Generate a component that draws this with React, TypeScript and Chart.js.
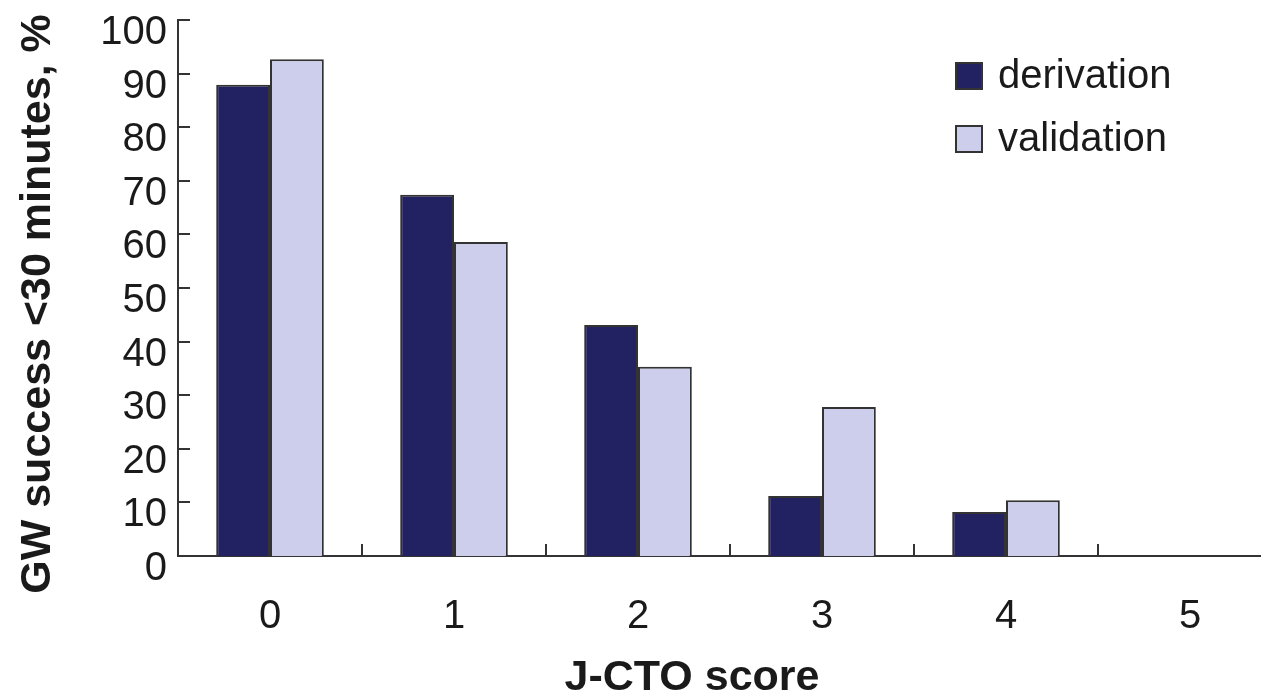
import React, { useEffect, useRef } from 'react';
import { Chart, registerables } from 'chart.js';

Chart.register(...registerables);

const categories = ['0', '1', '2', '3', '4', '5'];
const derivation = [87.9, 67.4, 43.1, 11.2, 8.2, 0];
const validation = [92.7, 58.6, 35.3, 27.8, 10.4, 0];
const seriesNames = ['derivation', 'validation'];
const seriesColors = ['#222262', '#CDCEEC'];
const yMin = 0;
const yMax = 100;
const yStep = 10;
const xTitle = 'J-CTO score';
const yTitle = 'GW success <30 minutes, %';

const FONT = "'Liberation Sans', Arial, sans-serif";
const AXIS_COLOR = '#333333';
const TEXT_COLOR = '#1a1a1a';

const decorPlugin = {
  id: 'decor',
  afterDraw(chart: any) {
    const ctx = chart.ctx as CanvasRenderingContext2D;
    const { left, top, bottom } = chart.chartArea;
    const ys = chart.scales.y;
    const xs = chart.scales.x;
    ctx.save();
    ctx.strokeStyle = AXIS_COLOR;
    ctx.lineWidth = 2;
    // y tick marks (inside)
    ys.ticks.forEach((t: any) => {
      const py = Math.round(ys.getPixelForValue(t.value));
      ctx.beginPath();
      ctx.moveTo(left, py);
      ctx.lineTo(left + 12, py);
      ctx.stroke();
    });
    // x tick marks at category boundaries (inside)
    for (let i = 1; i < categories.length; i++) {
      const px = Math.round((xs.getPixelForValue(i - 1) + xs.getPixelForValue(i)) / 2);
      ctx.beginPath();
      ctx.moveTo(px, bottom);
      ctx.lineTo(px, bottom - 12);
      ctx.stroke();
    }
    // legend
    ctx.font = `40px ${FONT}`;
    ctx.textBaseline = 'middle';
    ctx.textAlign = 'left';
    chart.data.datasets.forEach((ds: any, i: number) => {
      const bx = left + 777;
      const by = top + 42 + i * 63;
      ctx.fillStyle = ds.backgroundColor;
      ctx.fillRect(bx, by, 28, 28);
      ctx.strokeStyle = AXIS_COLOR;
      ctx.lineWidth = 2;
      ctx.strokeRect(bx + 1, by + 1, 26, 26);
      ctx.fillStyle = TEXT_COLOR;
      ctx.fillText(ds.label, bx + 43, by + 15);
    });
    // axis titles
    ctx.font = `bold 43px ${FONT}`;
    ctx.fillStyle = TEXT_COLOR;
    ctx.textAlign = 'center';
    ctx.textBaseline = 'alphabetic';
    ctx.fillText(xTitle, 692, 690);
    ctx.save();
    ctx.translate(50, 304);
    ctx.rotate(-Math.PI / 2);
    ctx.fillText(yTitle, 0, 0);
    ctx.restore();
    ctx.restore();
  },
};

export default function App() {
  const canvasRef = useRef<HTMLCanvasElement | null>(null);

  useEffect(() => {
    if (!canvasRef.current) return;
    const chart = new Chart(canvasRef.current, {
      type: 'bar',
      data: {
        labels: categories,
        datasets: [
          {
            label: seriesNames[0],
            data: derivation,
            backgroundColor: seriesColors[0],
            borderColor: AXIS_COLOR,
            borderWidth: 2,
            categoryPercentage: 0.585,
            barPercentage: 1,
          },
          {
            label: seriesNames[1],
            data: validation,
            backgroundColor: seriesColors[1],
            borderColor: AXIS_COLOR,
            borderWidth: 2,
            categoryPercentage: 0.585,
            barPercentage: 1,
          },
        ],
      },
      options: {
        animation: false,
        responsive: false,
        maintainAspectRatio: false,
        devicePixelRatio: 1,
        layout: { padding: { left: 0, top: 20, right: 18, bottom: 0 } },
        plugins: {
          legend: { display: false },
          tooltip: { enabled: false },
          title: { display: false },
        },
        scales: {
          x: {
            offset: true,
            grid: { display: false, drawTicks: false },
            border: { display: true, color: AXIS_COLOR, width: 2 },
            ticks: {
              font: { family: FONT, size: 40 },
              color: TEXT_COLOR,
              padding: 37,
              maxRotation: 0,
              autoSkip: false,
            },
            afterFit(scale: any) {
              scale.height = 138;
              scale.paddingLeft = 0;
              scale.paddingRight = 0;
            },
          },
          y: {
            min: yMin,
            max: yMax,
            grid: { display: false, drawTicks: false },
            border: { display: true, color: AXIS_COLOR, width: 2 },
            ticks: {
              stepSize: yStep,
              font: { family: FONT, size: 40 },
              color: TEXT_COLOR,
              padding: 11,
              labelOffset: 13,
            },
            afterFit(scale: any) {
              scale.width = 178;
              scale.paddingTop = 0;
              scale.paddingBottom = 0;
            },
          },
        },
      },
      plugins: [decorPlugin],
    });
    return () => chart.destroy();
  }, []);

  return (
    <div
      style={{
        position: 'fixed',
        left: 0,
        top: 0,
        width: 1261,
        height: 694,
        overflow: 'hidden',
        background: '#ffffff',
      }}
    >
      <canvas
        ref={canvasRef}
        width={1300}
        height={694}
        style={{ width: 1300, height: 694, display: 'block' }}
      />
    </div>
  );
}
